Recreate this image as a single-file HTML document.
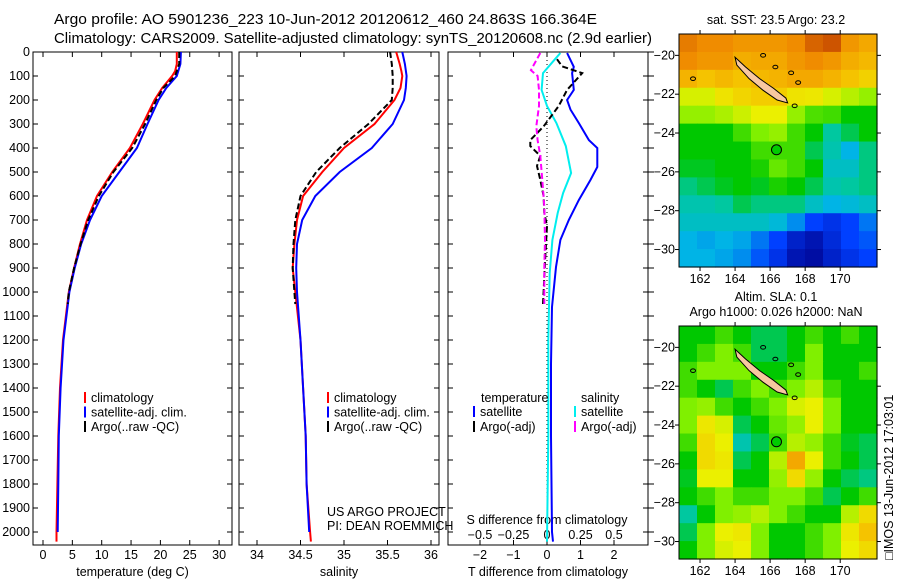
<!DOCTYPE html>
<html><head><meta charset="utf-8"><style>
html,body{margin:0;padding:0;background:#fff;}
svg{display:block;font-family:"Liberation Sans",sans-serif;}
</style></head><body>
<svg id="fig" width="900" height="580" viewBox="0 0 900 580" xmlns="http://www.w3.org/2000/svg">
<text x="54" y="24" font-size="15" textLength="543" lengthAdjust="spacingAndGlyphs">Argo profile: AO 5901236_223 10-Jun-2012 20120612_460 24.863S 166.364E</text>
<text x="54" y="43" font-size="15" textLength="598" lengthAdjust="spacingAndGlyphs">Climatology: CARS2009. Satellite-adjusted climatology: synTS_20120608.nc (2.9d earlier)</text>
<text x="776" y="24" font-size="12.5" text-anchor="middle">sat. SST: 23.5 Argo: 23.2</text>
<text x="776" y="301" font-size="12.5" text-anchor="middle">Altim. SLA: 0.1</text>
<text x="776" y="316" font-size="12.5" text-anchor="middle">Argo h1000: 0.026 h2000: NaN</text>
<text x="327" y="516" font-size="12.5">US ARGO PROJECT</text>
<text x="327" y="530" font-size="12.5">PI: DEAN ROEMMICH</text>
<text transform="translate(893,560) rotate(-90)" font-size="12.5">□IMOS 13-Jun-2012 17:03:01</text>
</svg>
<script>
// ---- data ----
const depthTicks=[0,100,200,300,400,500,600,700,800,900,1000,1100,1200,1300,1400,1500,1600,1700,1800,1900,2000];
const tempTicks=[0,5,10,15,20,25,30];
const salTicks=[34,34.5,35,35.5,36];
const salTickLabels=["34","34.5","35","35.5","36"];
const tdiffTicks=[-2,-1,0,1,2];
const sdiffTicks=[-0.5,-0.25,0,0.25,0.5];
const sdiffTickLabels=["-0.5","-0.25","0","0.25","0.5"];

const climDepth=[0,50,80,100,150,200,300,400,500,600,700,800,900,1000,1200,1400,1600,1800,2000,2040];
const climTemp=[22.8,22.8,22.5,22,20.3,19,17,14.8,11.8,9.2,7.5,6.3,5.3,4.4,3.4,2.9,2.6,2.45,2.3,2.3];
const climSal=[35.6,35.64,35.66,35.67,35.65,35.58,35.35,35.0,34.75,34.53,34.46,34.43,34.41,34.44,34.5,34.53,34.56,34.57,34.61,34.62];
const satDepth=[0,50,100,150,200,300,400,500,600,700,800,900,1000,1200,1400,1600,1800,2000];
const satTemp=[23.5,23.4,22.8,21,19.7,17.8,16,13,10,8,6.5,5.4,4.5,3.5,3.0,2.7,2.6,2.5];
const satSal=[35.67,35.7,35.72,35.71,35.69,35.56,35.32,34.95,34.67,34.52,34.46,34.45,34.46,34.5,34.53,34.56,34.57,34.6];
const argoDepth=[0,50,100,150,200,300,400,500,600,700,800,900,1000,1050];
const argoTemp=[23.2,23.2,22.5,20.5,19.3,17.4,15.2,12,9.5,7.7,6.4,5.3,4.4,4.2];
const argoSal=[35.53,35.55,35.56,35.56,35.55,35.28,34.95,34.68,34.5,34.44,34.42,34.41,34.43,34.44];

const dSatDepth=[4,62,88,158,200,240,296,367,400,479,533,617,700,783,896,1062,1300,1600,2000,2040];
const dSatT=[0.6,0.8,0.75,0.8,0.6,0.7,0.95,1.25,1.5,1.5,1.3,0.95,0.65,0.4,0.27,0.15,0.12,0.12,0.15,0.18];
const dSatSDepth=[4,30,88,158,225,296,392,504,588,671,783,921,1200,1600,2040];
const dSatS=[0.1,0.06,-0.03,-0.04,0,0.07,0.14,0.18,0.12,0.08,0.04,0.02,0.01,0.01,0.0];
const dArgoDepth=[30,60,88,158,225,310,367,392,433,475,533,600,670,725,850,1000,1050];
const dArgoT=[0.3,0.45,1.05,0.6,0.35,-0.1,-0.5,-0.5,-0.2,-0.3,-0.2,-0.1,-0.08,0,-0.05,-0.1,-0.12];
const dArgoSDepth=[4,76,100,158,225,310,367,433,533,644,783,900,1000,1050];
const dArgoS=[-0.05,-0.12,-0.07,-0.06,-0.06,-0.08,-0.07,-0.05,-0.035,-0.02,-0.015,-0.02,-0.02,-0.02];

const lonTicks=[162,164,166,168,170];
const latTicks=[-20,-22,-24,-26,-28,-30];
const sstGrid=[
[0.92,0.9,0.9,0.88,0.88,0.88,0.9,0.95,0.97,0.88,0.85],
[0.9,0.88,0.88,0.84,0.85,0.85,0.88,0.9,0.88,0.84,0.82],
[0.83,0.8,0.82,0.8,0.82,0.83,0.85,0.85,0.83,0.8,0.77],
[0.68,0.68,0.73,0.76,0.78,0.78,0.73,0.72,0.68,0.65,0.62],
[0.62,0.62,0.64,0.67,0.7,0.7,0.62,0.56,0.55,0.5,0.5],
[0.5,0.5,0.5,0.55,0.6,0.62,0.55,0.5,0.4,0.45,0.5],
[0.5,0.5,0.5,0.5,0.55,0.55,0.55,0.45,0.38,0.3,0.42],
[0.48,0.48,0.5,0.5,0.52,0.58,0.55,0.5,0.35,0.35,0.42],
[0.42,0.45,0.48,0.5,0.48,0.52,0.5,0.45,0.38,0.4,0.42],
[0.38,0.38,0.4,0.45,0.42,0.42,0.42,0.35,0.3,0.32,0.35],
[0.35,0.35,0.35,0.35,0.35,0.32,0.25,0.15,0.12,0.15,0.22],
[0.3,0.28,0.3,0.28,0.22,0.15,0.08,0.05,0.1,0.15,0.18],
[0.3,0.3,0.28,0.25,0.18,0.12,0.05,0.03,0.08,0.12,0.15]];
const slaGrid=[
[0.5,0.5,0.55,0.5,0.45,0.45,0.5,0.55,0.5,0.55,0.5],
[0.5,0.55,0.6,0.55,0.45,0.45,0.5,0.6,0.5,0.5,0.5],
[0.55,0.6,0.6,0.6,0.5,0.5,0.55,0.6,0.5,0.5,0.55],
[0.55,0.5,0.45,0.55,0.6,0.55,0.6,0.65,0.55,0.5,0.5],
[0.6,0.62,0.55,0.5,0.55,0.6,0.68,0.7,0.6,0.5,0.5],
[0.6,0.72,0.68,0.45,0.5,0.58,0.62,0.7,0.6,0.5,0.5],
[0.55,0.75,0.7,0.38,0.45,0.55,0.65,0.62,0.55,0.48,0.45],
[0.5,0.75,0.72,0.45,0.5,0.65,0.85,0.7,0.55,0.5,0.45],
[0.48,0.7,0.7,0.5,0.5,0.62,0.75,0.62,0.5,0.45,0.42],
[0.5,0.55,0.6,0.55,0.55,0.6,0.6,0.55,0.45,0.5,0.55],
[0.4,0.5,0.6,0.62,0.65,0.6,0.55,0.5,0.5,0.65,0.75],
[0.45,0.6,0.7,0.72,0.6,0.5,0.5,0.55,0.6,0.72,0.8],
[0.5,0.6,0.68,0.7,0.6,0.5,0.5,0.55,0.6,0.7,0.75]];
const argoLon=166.364, argoLat=-24.863;

// ---- helpers ----
const NS="http://www.w3.org/2000/svg";
const svg=document.getElementById('fig');
function mk(tag,attrs,parent){const e=document.createElementNS(NS,tag);for(const k in attrs)e.setAttribute(k,attrs[k]);(parent||svg).appendChild(e);return e;}
const Y0=52,YS=0.24,YB=545;
const yD=d=>Y0+d*YS;
const panels=[
 {name:'temperature-panel',x0:33,x1:232,fx:v=>43+v*5.87,ticks:tempTicks,labels:tempTicks.map(String),xlabel:'temperature (deg C)'},
 {name:'salinity-panel',x0:239,x1:439,fx:v=>257+(v-34)*87,ticks:salTicks,labels:salTickLabels,xlabel:'salinity'},
 {name:'difference-panel',x0:448,x1:648,fx:v=>547+v*33.5,ticks:tdiffTicks,labels:tdiffTicks.map(String),xlabel:'T difference from climatology'}
];
panels.forEach((p,i)=>{
  const r=mk('rect',{x:p.x0,y:Y0,width:p.x1-p.x0,height:YB-Y0,fill:'none',stroke:'#000','stroke-width':1});
  
  
  depthTicks.forEach(d=>{
    const y=yD(d);
    mk('line',{x1:p.x0,x2:p.x0+5,y1:y,y2:y,stroke:'#000'});
    mk('line',{x1:p.x1,x2:p.x1-5,y1:y,y2:y,stroke:'#000'});
    if(i===0){const t=mk('text',{x:p.x0-3,y:y+4,'font-size':12.5,'text-anchor':'end'});t.textContent=d;
      
      }
  });
  p.ticks.forEach((v,k)=>{
    const x=p.fx(v);
    mk('line',{x1:x,x2:x,y1:YB,y2:YB-5,stroke:'#000'});
    mk('line',{x1:x,x2:x,y1:Y0,y2:Y0+5,stroke:'#000'});
    const t=mk('text',{x:x,y:YB+14,'font-size':12.5,'text-anchor':'middle'});t.textContent=p.labels[k].replace('-','\u2212');
    
    
  });
  const xl=mk('text',{x:(p.x0+p.x1)/2,y:YB+31,'font-size':12.5,'text-anchor':'middle'});xl.textContent=p.xlabel;
  
  
});
depthTicks.forEach(d=>{mk('line',{x1:648,x2:654,y1:yD(d),y2:yD(d),stroke:'#000'});});
const fS=v=>547+v*134;
sdiffTicks.forEach((v,k)=>{
  const x=fS(v);
  mk('line',{x1:x,x2:x,y1:YB,y2:YB-4,stroke:'#000'});
  const t=mk('text',{x:x,y:539,'font-size':12.5,'text-anchor':'middle'});t.textContent=sdiffTickLabels[k].replace('-','\u2212');
  
  
});
{const t=mk('text',{x:547,y:524,'font-size':12.5,'text-anchor':'middle'});t.textContent='S difference from climatology';

}
{const l=mk('line',{x1:547,x2:547,y1:Y0,y2:YB,stroke:'#000','stroke-dasharray':'1,3'});

}

function series(depths,vals,fx,color,dash,name,w){
  const pts=depths.map((d,i)=>fx(vals[i]).toFixed(1)+','+yD(d).toFixed(1)).join(' ');
  const a={points:pts,fill:'none',stroke:color,'stroke-width':w||2};
  if(dash)a['stroke-dasharray']=dash;
  const e=mk('polyline',a);
  
  
}
const fT=panels[0].fx,fSal=panels[1].fx,fTd=panels[2].fx;
series(climDepth,climTemp,fT,'#ff0000',null,'temp-climatology-line');
series(satDepth,satTemp,fT,'#0000ff',null,'temp-satellite-line');
series(argoDepth,argoTemp,fT,'#000',"6,3",'temp-argo-line');
series(climDepth,climSal,fSal,'#ff0000',null,'sal-climatology-line');
series(satDepth,satSal,fSal,'#0000ff',null,'sal-satellite-line');
series(argoDepth,argoSal,fSal,'#000',"6,3",'sal-argo-line');
series(dSatDepth,dSatT,fTd,'#0000ff',null,'tdiff-satellite-line');
series(dSatSDepth,dSatS,fS,'#00eeee',null,'sdiff-satellite-line');
series(dArgoDepth,dArgoT,fTd,'#000',"6,3",'tdiff-argo-line');
series(dArgoSDepth,dArgoS,fS,'#ff00ff',"6,3",'sdiff-argo-line');

function legend(x,y,color,label){
  const g=mk('g',{});
  
  
  mk('line',{x1:x,x2:x,y1:y-10,y2:y+1,stroke:color,'stroke-width':2},g);
  const t=mk('text',{x:x+6,y:y,'font-size':12.5},g);t.textContent=label;
}
[[85,'#ff0000','climatology'],[85,'#0000ff','satellite-adj. clim.'],[85,'#000','Argo(..raw -QC)']].forEach((e,i)=>legend(e[0],402+i*14.5,e[1],e[2]));
[[328,'#ff0000','climatology'],[328,'#0000ff','satellite-adj. clim.'],[328,'#000','Argo(..raw -QC)']].forEach((e,i)=>legend(e[0],402+i*14.5,e[1],e[2]));
{const t=mk('text',{x:481,y:402,'font-size':12.5});t.textContent='temperature';

}
{const t=mk('text',{x:581,y:402,'font-size':12.5});t.textContent='salinity';

}
legend(474,416,'#0000ff','satellite');legend(474,431,'#000','Argo(-adj)');
legend(575,416,'#00eeee','satellite');legend(575,431,'#ff00ff','Argo(-adj)');

const stops=[[0,[0,0,140]],[0.15,[0,64,255]],[0.3,[0,180,230]],[0.4,[0,200,160]],[0.5,[0,200,0]],[0.6,[128,240,0]],[0.7,[235,240,0]],[0.8,[245,195,0]],[0.9,[240,140,0]],[1,[190,60,0]]];
function cmap(v){for(let i=1;i<stops.length;i++){if(v<=stops[i][0]){const a=stops[i-1],b=stops[i],t=(v-a[0])/(b[0]-a[0]);return 'rgb('+a[1].map((c,j)=>Math.round(c+(b[1][j]-c)*t)).join(',')+')';}}return 'rgb(190,60,0)';}
function drawMap(name,top,grid){
  const L=679,R=877,B=top+233,lon0=160.8,lon1=172.1,lat0=-18.9,lat1=-30.9;
  const fx=lo=>L+(lo-lon0)/(lon1-lon0)*(R-L), fy=la=>top+(la-lat0)/(lat1-lat0)*(B-top);
  const g=mk('g',{});
  
  
  const rows=grid.length,cols=grid[0].length,cw=(R-L)/cols,ch=(B-top)/rows;
  grid.forEach((row,r)=>row.forEach((v,c)=>{
    const cell=mk('rect',{x:L+c*cw,y:top+r*ch,width:cw+0.6,height:ch+0.6,fill:cmap(v)},g);
    
    
  }));
  const isl=[[164.0,-20.1],[164.6,-20.6],[165.4,-21.2],[166.2,-21.7],[166.9,-22.2],[167.0,-22.45],[166.4,-22.3],[165.6,-21.8],[164.8,-21.2],[164.1,-20.5]];
  const is=mk('polygon',{points:isl.map(p=>fx(p[0])+','+fy(p[1])).join(' '),fill:'#f8c8a0',stroke:'#000','stroke-width':1},g);
  
  
  [[165.6,-20.0],[166.3,-20.6],[167.2,-20.9],[167.6,-21.4],[161.6,-21.2],[167.4,-22.6]].forEach(p=>{
    const e=mk('ellipse',{cx:fx(p[0]),cy:fy(p[1]),rx:2.5,ry:1.8,fill:'none',stroke:'#000','stroke-width':1},g);
    
    
  });
  const c=mk('circle',{cx:fx(argoLon),cy:fy(argoLat),r:5,fill:'#00cc00',stroke:'#000','stroke-width':1},g);
  
  
  mk('rect',{x:L,y:top,width:R-L,height:B-top,fill:'none',stroke:'#000'},g);
  lonTicks.forEach(lo=>{const x=fx(lo);
    mk('line',{x1:x,x2:x,y1:B,y2:B+4,stroke:'#000'},g);mk('line',{x1:x,x2:x,y1:top,y2:top-4,stroke:'#000'},g);
    const t=mk('text',{x:x,y:B+16,'font-size':12.5,'text-anchor':'middle'},g);t.textContent=lo;
    
    });
  latTicks.forEach(la=>{const y=fy(la);
    mk('line',{x1:L,x2:L-4,y1:y,y2:y,stroke:'#000'},g);mk('line',{x1:R,x2:R+4,y1:y,y2:y,stroke:'#000'},g);
    const t=mk('text',{x:L-4,y:y+4,'font-size':12.5,'text-anchor':'end'},g);t.textContent='\u2212'+(-la);
    
    });
}
drawMap('sst-map',34,sstGrid);
drawMap('sla-map',326,slaGrid);
</script>
</body></html>
